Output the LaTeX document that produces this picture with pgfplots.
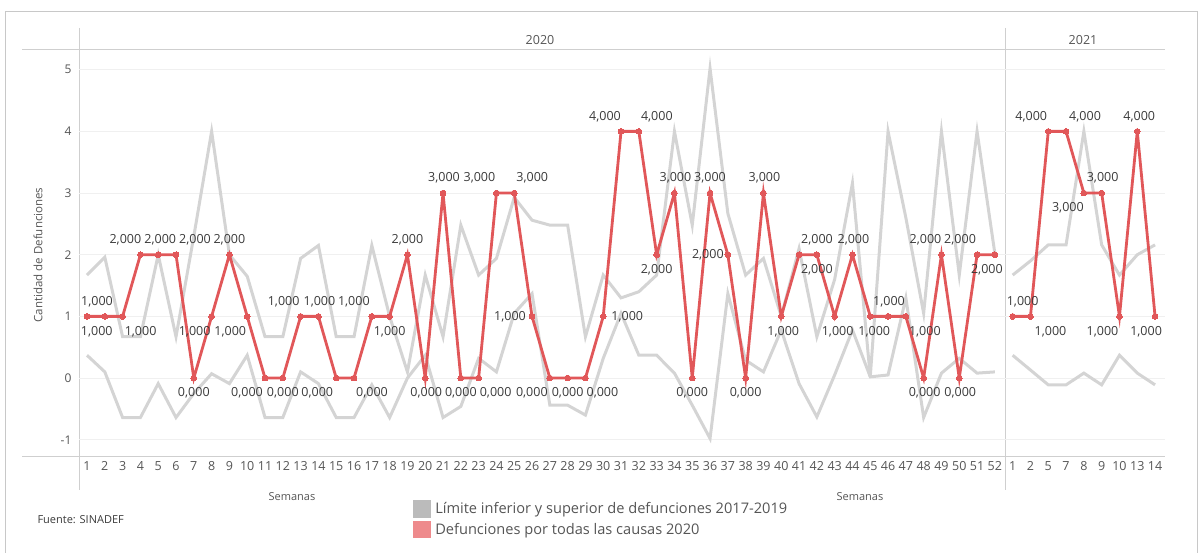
\documentclass[border=0pt]{standalone}
\usepackage{fontspec}
\setmainfont{Open Sans}
\usepackage{pgfplots}
\pgfplotsset{compat=1.18}
\usepackage{pgfplotstable}
\definecolor{redl}{HTML}{E15759}
\definecolor{redleg}{HTML}{EE8A8C}
\definecolor{grayl}{HTML}{D4D4D4}
\definecolor{grayleg}{HTML}{BBBBBB}
\definecolor{gridc}{HTML}{F0F0F0}
\definecolor{framec}{HTML}{C8C8C8}
\definecolor{linec}{HTML}{CFCFCF}
\definecolor{txtc}{HTML}{555555}
\definecolor{lblc}{HTML}{3A3A3A}

\pgfplotstableread{
x y dx dy
0 1 10 15
1 1 -8 -15
2 1 18 -15
3 2 -15 15
4 2 2 15
5 2 19 15
6 0 0 -15
7 1 -17 -15
8 2 0 15
9 1 -17 -15
10 0 -18 -15
11 0 0 -15
12 1 -17 15
13 1 1 15
14 0 -19 -15
15 0 18 -15
16 1 -18 15
17 1 0 -15
18 2 0 15
19 0 1 -15
20 3 1 15
21 0 0 -15
22 0 17 -15
23 3 -17 15
24 3 18 15
25 1 -22 0
26 0 -18 -15
27 0 0 -15
28 0 17 -15
29 1 24 0
30 4 -16 15
31 4 18 15
32 2 0 -15
33 3 1 15
34 0 0 -15
35 3 0 15
36 2 -20 0
37 0 0 -15
38 3 1 15
39 1 2 -15
40 2 18 15
41 2 0 -15
42 1 3 -15
43 2 1 15
44 1 4 -15
45 1 1 15
46 1 19 -15
47 0 1 -15
48 2 -16 15
49 0 1 -15
50 2 -17 15
51 2 -8 -15
51.5 nan 0 0
52 1 10 15
53 1 20 -15
54 4 -17 15
55 4 19 15
56 3 -16 -15
57 3 1 15
58 1 -17 -15
59 4 2 15
60 1 -9 -15
}\defun

\pgfplotstableread{
x u l
0 1.67 0.37
1 1.96 0.10
2 0.67 -0.64
3 0.67 -0.64
4 2.00 -0.09
5 0.67 -0.64
6 2.30 -0.25
7 4.00 0.07
8 2.00 -0.09
9 1.65 0.37
10 0.67 -0.64
11 0.67 -0.64
12 1.94 0.10
13 2.15 -0.09
14 0.67 -0.64
15 0.67 -0.64
16 2.15 -0.11
17 1.00 -0.64
18 0.10 0.00
19 1.67 0.37
20 0.67 -0.64
21 2.48 -0.46
22 1.67 0.32
23 1.94 0.10
24 2.93 1.05
25 2.56 1.37
26 2.48 -0.44
27 2.48 -0.44
28 0.67 -0.60
29 1.67 0.32
30 1.30 1.05
31 1.40 0.37
32 1.67 0.37
33 4.00 0.08
34 2.48 -0.44
35 5.02 -0.98
36 2.67 1.37
37 1.67 0.29
38 1.94 0.10
39 1.00 0.78
40 2.10 -0.09
41 0.67 -0.63
42 1.60 0.05
43 3.16 0.78
44 0.02 0.02
45 4.00 0.05
46 2.60 1.30
47 1.05 -0.64
48 4.00 0.08
49 1.67 0.32
50 4.00 0.08
51 2.02 0.10
51.5 nan nan
52 1.67 0.37
53 1.90 0.13
54 2.16 -0.11
55 2.16 -0.11
56 4.00 0.08
57 2.16 -0.11
58 1.67 0.37
59 2.00 0.08
60 2.16 -0.11
}\limites

\begin{document}
\begin{tikzpicture}
\useasboundingbox (0pt,0pt) rectangle (1202pt,553pt);
% frame and pane lines
\draw[framec, line width=1pt] (5pt,0pt) -- (5pt,541pt) -- (1197pt,541pt) -- (1197pt,0pt);
\draw[linec, line width=1pt] (22pt,503pt) -- (1165pt,503pt);
\draw[linec, line width=1pt] (22pt,96pt) -- (1165pt,96pt);
\draw[linec, line width=1pt] (79pt,525pt) -- (79pt,63pt);
\draw[linec, line width=1pt] (1005pt,525pt) -- (1005pt,63pt);
\node[text=txtc, font=\fontsize{12.5}{12}\selectfont] at (540pt,513pt) {2020};
\node[text=txtc, font=\fontsize{12.5}{12}\selectfont] at (1083pt,513pt) {2021};
\node[text=txtc, font=\fontsize{11.5}{12}\selectfont, rotate=90] at (38pt,298pt) {Cantidad de Defunciones};
\node[text=txtc, font=\fontsize{11}{12}\selectfont] at (292pt,56pt) {Semanas};
\node[text=txtc, font=\fontsize{11}{12}\selectfont] at (860pt,56pt) {Semanas};
\node[text=lblc, font=\fontsize{11}{12}\selectfont, anchor=west] at (34pt,33pt) {Fuente: SINADEF};
\begin{axis}[
  at={(79pt,96pt)}, anchor=south west,
  scale only axis, width=1086pt, height=407pt,
  xmin=-0.45, xmax=60.56, ymin=-1.28, ymax=5.32,
  axis line style={draw=none},
  major tick length=0pt,
  ytick={-1,0,1,2,3,4,5},
  yticklabels={-1,0,1,2,3,4,5},
  yticklabel style={font=\fontsize{12}{12}\selectfont, text=txtc, xshift=-4pt},
  xtick={0,...,60},
  xticklabels={1,2,3,4,5,6,7,8,9,10,11,12,13,14,15,16,17,18,19,20,21,22,23,24,25,26,27,28,29,30,31,32,33,34,35,36,37,38,39,40,41,42,43,44,45,46,47,48,49,50,51,52,1,2,5,7,8,9,10,13,14},
  xticklabel style={font=\fontsize{12.5}{12}\selectfont, text=txtc, yshift=-1pt},
  ymajorgrids, major grid style={gridc, line width=1pt},
  unbounded coords=jump,
  clip=false,
  legend style={at={(0.3076,-0.1040)}, anchor=north west, draw=none, fill=none,
    font=\fontsize{14.6}{15}\selectfont, text=txtc, row sep=3pt, inner sep=0pt,
    nodes={inner xsep=4pt, inner ysep=1pt}},
  legend cell align=left,
]
\addplot[grayl, line width=3pt,
  legend image code/.code={\fill[grayleg] (0pt,-7.5pt) rectangle (15pt,7.5pt);}]
  table[x=x, y=u] {\limites};
\addlegendentry{Límite inferior y superior de defunciones 2017-2019}
\addplot[grayl, line width=3pt, forget plot] table[x=x, y=l] {\limites};
\addplot[redl, line width=2.8pt, mark=*, mark size=2.9pt, mark options={fill=redl, draw=redl, line width=0pt},
  legend image code/.code={\fill[redleg] (0pt,-7.5pt) rectangle (15pt,7.5pt);},
  visualization depends on={\thisrow{dx} \as \ldx},
  visualization depends on={\thisrow{dy} \as \ldy},
  nodes near coords={\pgfmathprintnumber[fixed,fixed zerofill,precision=3,use comma,assume math mode=true]{\pgfplotspointmeta}},
  every node near coord/.append style={anchor=center, xshift=\ldx pt, yshift=\ldy pt,
    font=\fontsize{12.5}{12}\selectfont, text=lblc, inner sep=0pt},
  ] table[x=x, y=y] {\defun};
\addlegendentry{Defunciones por todas las causas 2020}
\end{axis}
\end{tikzpicture}
\end{document}
